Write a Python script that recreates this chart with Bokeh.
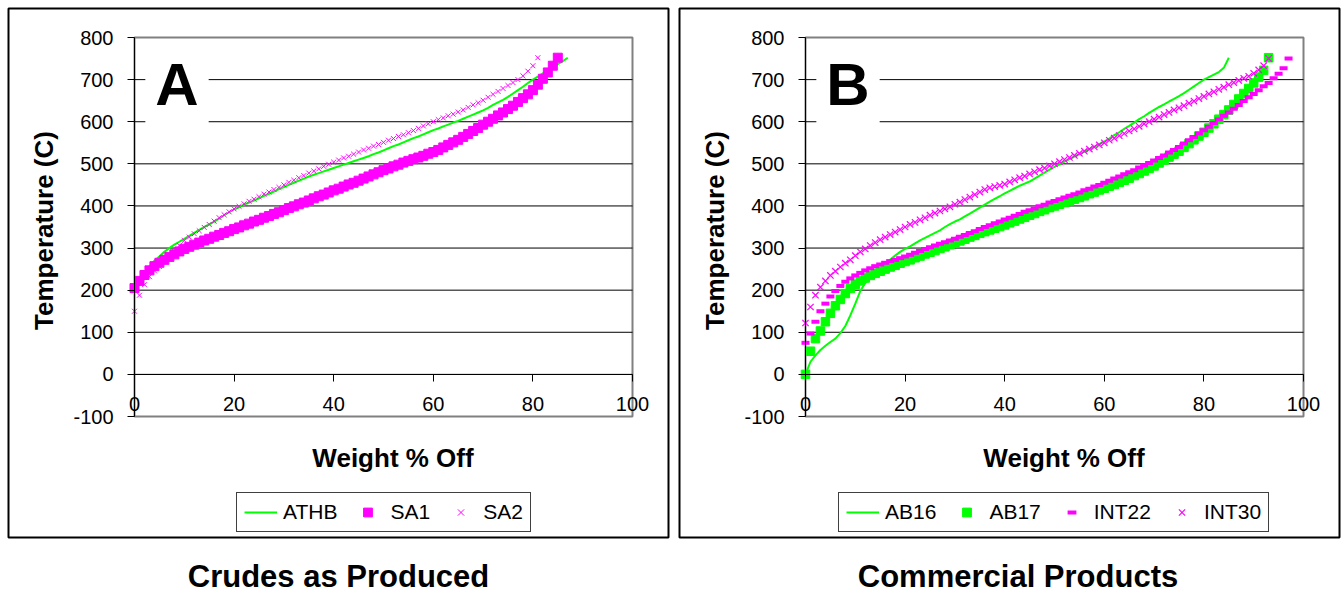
from bokeh.plotting import figure
from bokeh.models import (Range1d, LinearAxis, FixedTicker, Legend, LegendItem,
                          Label, BoxAnnotation, ColumnDataSource, PrintfTickFormatter)
from bokeh.layouts import row
from bokeh.embed import file_html
from bokeh.resources import INLINE
import math

# ---------------- data (temperature, C, at each weight % off) ----------------
WT_ATHB = list(range(0, 88))
T_ATHB = [210, 226, 240, 256, 270, 280, 291, 300, 308, 315, 322, 329, 336, 343, 350, 356,
          363, 370, 378, 385, 392, 397, 403, 408, 413, 418, 424, 429, 434, 440, 445, 450,
          455, 460, 465, 470, 474, 478, 482, 486, 490, 494, 498, 502, 506, 510, 514, 518,
          523, 527, 532, 537, 542, 546, 551, 556, 561, 565, 570, 575, 580, 584, 589, 593,
          598, 602, 607, 612, 617, 622, 627, 633, 640, 646, 652, 659, 667, 675, 683, 692,
          700, 707, 715, 722, 730, 737, 744, 752]

WT_SA1 = list(range(0, 86))
T_SA1 = [205, 222, 236, 247, 257, 265, 272, 279, 285, 292, 298, 303, 308, 313, 318, 322,
         327, 331, 336, 340, 345, 349, 354, 358, 363, 367, 372, 376, 381, 385, 390, 395,
         399, 404, 408, 413, 418, 423, 427, 432, 437, 441, 446, 451, 455, 460, 465, 470,
         475, 480, 485, 489, 494, 498, 503, 507, 511, 515, 519, 524, 528, 533, 539, 545,
         551, 557, 564, 571, 578, 585, 593, 600, 607, 615, 622, 630, 638, 647, 656, 665,
         675, 688, 702, 717, 733, 752]

WT_SA2 = list(range(0, 82))
T_SA2 = [150, 188, 213, 232, 246, 256, 268, 280, 293, 306, 318, 326, 334, 341, 349, 356,
         364, 372, 379, 386, 393, 399, 405, 411, 416, 422, 428, 433, 439, 444, 450, 456,
         461, 467, 472, 478, 483, 488, 494, 499, 504, 509, 514, 518, 523, 528, 533, 537,
         542, 546, 551, 556, 560, 565, 569, 574, 579, 584, 590, 595, 600, 605, 609, 614,
         618, 623, 628, 634, 640, 645, 651, 658, 665, 672, 679, 686, 693, 700, 709, 720,
         733, 752]

WT_AB16 = list(range(0, 86))
T_AB16 = [0, 30, 45, 58, 68, 77, 85, 98, 115, 140, 168, 198, 217, 230, 242, 251,
          262, 272, 282, 291, 298, 304, 311, 318, 324, 330, 336, 342, 350, 357, 363, 368,
          375, 382, 389, 396, 403, 410, 417, 423, 430, 436, 442, 448, 453, 458, 465, 472,
          479, 486, 493, 499, 505, 511, 517, 523, 529, 535, 541, 547, 553, 560, 568, 575,
          583, 590, 598, 606, 613, 621, 628, 635, 641, 648, 654, 661, 668, 676, 684, 692,
          700, 706, 712, 718, 728, 752]

WT_AB17 = list(range(0, 94))
T_AB17 = [0, 55, 85, 103, 125, 145, 163, 178, 192, 204, 214, 222, 229, 235, 240, 245,
          250, 255, 259, 264, 268, 272, 277, 281, 286, 290, 294, 299, 303, 308, 312, 317,
          321, 326, 330, 335, 339, 343, 347, 351, 355, 360, 364, 369, 373, 378, 382, 387,
          391, 396, 400, 404, 408, 412, 416, 420, 424, 429, 433, 438, 442, 447, 451, 456,
          461, 466, 472, 477, 483, 489, 495, 502, 509, 516, 523, 530, 539, 548, 557, 566,
          575, 585, 595, 606, 617, 628, 641, 654, 667, 679, 692, 706, 722, 752]

WT_INT22 = list(range(0, 98))
T_INT22 = [75, 97, 125, 150, 168, 185, 198, 210, 220, 228, 235, 241, 247, 252, 257, 261,
           265, 269, 272, 276, 280, 284, 289, 293, 298, 302, 306, 310, 314, 318, 322, 327,
           331, 336, 340, 345, 350, 354, 359, 363, 368, 372, 377, 381, 386, 390, 394, 399,
           403, 408, 412, 416, 420, 424, 428, 432, 437, 441, 446, 450, 455, 460, 465, 470,
           475, 480, 485, 491, 496, 502, 508, 514, 520, 527, 533, 540, 548, 556, 564, 572,
           580, 588, 597, 605, 614, 622, 631, 640, 649, 658, 666, 675, 684, 692, 703, 714,
           727, 750]

WT_INT30 = list(range(0, 94))
T_INT30 = [122, 160, 188, 207, 222, 235, 245, 255, 264, 272, 282, 291, 298, 306, 313, 320,
           326, 332, 338, 344, 350, 356, 361, 367, 372, 378, 383, 388, 393, 398, 404, 409,
           415, 421, 427, 433, 439, 443, 446, 449, 452, 457, 462, 467, 471, 476, 481, 486,
           490, 495, 500, 505, 510, 515, 520, 525, 530, 535, 540, 545, 550, 556, 561, 567,
           572, 578, 583, 589, 595, 600, 606, 611, 617, 622, 628, 633, 638, 644, 649, 655,
           660, 666, 671, 677, 682, 688, 693, 698, 703, 708, 715, 723, 733, 750]

Y_TICKS = [-100, 0, 100, 200, 300, 400, 500, 600, 700, 800]
GRID_TICKS = [0, 100, 200, 300, 400, 500, 600, 700]
X_TICKS = [0, 20, 40, 60, 80, 100]

FONT = "Liberation Sans"
MAGENTA = "#FF00FF"
GREEN = "#00FF00"

# ---------------- layout geometry (pixels) ----------------
W, H = 671, 596              # canvas of each panel
PX_LEFT, PX_RIGHT = 134, 632  # plot area x extent
PX_TOP, PX_BOTTOM = 37, 416   # plot area y extent (from top)


def make_panel(letter, caption, caption_x, legend_x, series):
    xmin, xmax = X_TICKS[0], X_TICKS[-1]
    ymin, ymax = Y_TICKS[0], Y_TICKS[-1]
    kx = (PX_RIGHT - PX_LEFT) / (xmax - xmin)
    ky = (PX_BOTTOM - PX_TOP) / (ymax - ymin)
    xr = Range1d(xmin - PX_LEFT / kx, xmax + (W - PX_RIGHT) / kx)
    yr = Range1d(ymin - (H - PX_BOTTOM) / ky, ymax + PX_TOP / ky)

    p = figure(frame_width=W, frame_height=H, min_border=0,
               x_range=xr, y_range=yr,
               x_axis_location=None, y_axis_location=None,
               toolbar_location=None, output_backend="svg",
               background_fill_color="white", border_fill_color="white",
               outline_line_color=None)
    p.title.visible = False
    for g in p.grid:
        g.visible = False

    # plot-area border (grey)
    p.add_layout(BoxAnnotation(left=xmin, right=xmax, bottom=ymin, top=ymax,
                               fill_color=None, line_color="#808080", line_alpha=1.0,
                               line_width=2, level="underlay"))
    # horizontal gridlines
    p.segment(x0=[xmin] * len(GRID_TICKS), x1=[xmax] * len(GRID_TICKS),
              y0=GRID_TICKS, y1=GRID_TICKS, line_color="black", line_width=1)

    tick_style = dict(major_tick_in=0, minor_tick_in=0, minor_tick_out=0,
                      axis_line_color="black", axis_line_width=1,
                      major_tick_line_color="black",
                      major_label_text_font=FONT,
                      major_label_text_font_size="20px",
                      major_label_text_color="black",
                      formatter=PrintfTickFormatter(format="%d"))
    yaxis = LinearAxis(ticker=FixedTicker(ticks=Y_TICKS), fixed_location=xmin,
                       bounds=(ymin, ymax), major_tick_out=7,
                       major_label_standoff=14, **tick_style)
    p.add_layout(yaxis, "left")
    xaxis = LinearAxis(ticker=FixedTicker(ticks=X_TICKS), fixed_location=0,
                       bounds=(xmin, xmax), major_tick_out=7,
                       major_label_standoff=16, **tick_style)
    p.add_layout(xaxis, "below")

    items = []
    for s in series:
        src = ColumnDataSource(dict(x=s["x"], y=s["y"]))
        if s["kind"] == "line":
            r = p.line("x", "y", source=src, line_color=s["color"], line_width=2)
        else:
            r = p.scatter("x", "y", source=src, marker=s["marker"], size=s["size"],
                          line_color=s["color"], fill_color=s["color"],
                          line_width=s["lw"])
        items.append(LegendItem(label=s["name"], renderers=[r]))

    legend = Legend(items=items, orientation="horizontal", location=(legend_x, 64),
                    margin=0, padding=7, spacing=14, glyph_width=33, glyph_height=22,
                    label_standoff=6, label_text_font=FONT, label_text_font_size="21px",
                    label_text_color="black", border_line_color="#404040",
                    border_line_alpha=1.0, border_line_width=1.5,
                    background_fill_color="white", background_fill_alpha=1.0)
    p.add_layout(legend, "center")

    p.add_layout(Label(x=176.5, y=H - 84, x_units="screen", y_units="screen",
                       text=letter, text_color="black",
                       text_font=FONT, text_font_style="bold", text_font_size="60px",
                       text_align="center", text_baseline="middle",
                       background_fill_color="white", padding=10))
    p.add_layout(Label(x=43.5, y=H - 230, x_units="screen", y_units="screen",
                       text="Temperature (C)", angle=math.pi / 2, text_color="black",
                       text_font=FONT, text_font_style="bold", text_font_size="26px",
                       text_align="center", text_baseline="middle"))
    p.add_layout(Label(x=392.5, y=H - 457.5, x_units="screen", y_units="screen",
                       text="Weight % Off", text_color="black",
                       text_font=FONT, text_font_style="bold",
                       text_font_size="26px", text_align="center",
                       text_baseline="middle"))
    p.add_layout(Label(x=caption_x, y=H - 576, x_units="screen", y_units="screen",
                       text=caption, text_color="black",
                       text_font=FONT, text_font_style="bold",
                       text_font_size="31px", text_align="center",
                       text_baseline="middle"))
    # outer panel frame
    p.add_layout(BoxAnnotation(left=8, right=668, bottom=H - 537, top=H - 8,
                               left_units="screen", right_units="screen",
                               bottom_units="screen", top_units="screen",
                               fill_color=None, line_color="black", line_alpha=1.0,
                               line_width=2))
    return p


pA = make_panel("A", "Crudes as Produced", 338, 236, [
    dict(name="ATHB", x=WT_ATHB, y=T_ATHB, kind="line", color=GREEN),
    dict(name="SA1", x=WT_SA1, y=T_SA1, kind="scatter", marker="square", size=9,
         lw=1, color=MAGENTA),
    dict(name="SA2", x=WT_SA2, y=T_SA2, kind="scatter", marker="x", size=7,
         lw=1, color=MAGENTA),
])

pB = make_panel("B", "Commercial Products", 346.5, 167, [
    dict(name="AB16", x=WT_AB16, y=T_AB16, kind="line", color=GREEN),
    dict(name="AB17", x=WT_AB17, y=T_AB17, kind="scatter", marker="square", size=8.5,
         lw=1, color=GREEN),
    dict(name="INT22", x=WT_INT22, y=T_INT22, kind="scatter", marker="dash", size=8,
         lw=4, color=MAGENTA),
    dict(name="INT30", x=WT_INT30, y=T_INT30, kind="scatter", marker="x", size=9,
         lw=1.2, color=MAGENTA),
])

layout = row(pA, pB, spacing=0)
open("out.html", "w").write(file_html(layout, INLINE))
